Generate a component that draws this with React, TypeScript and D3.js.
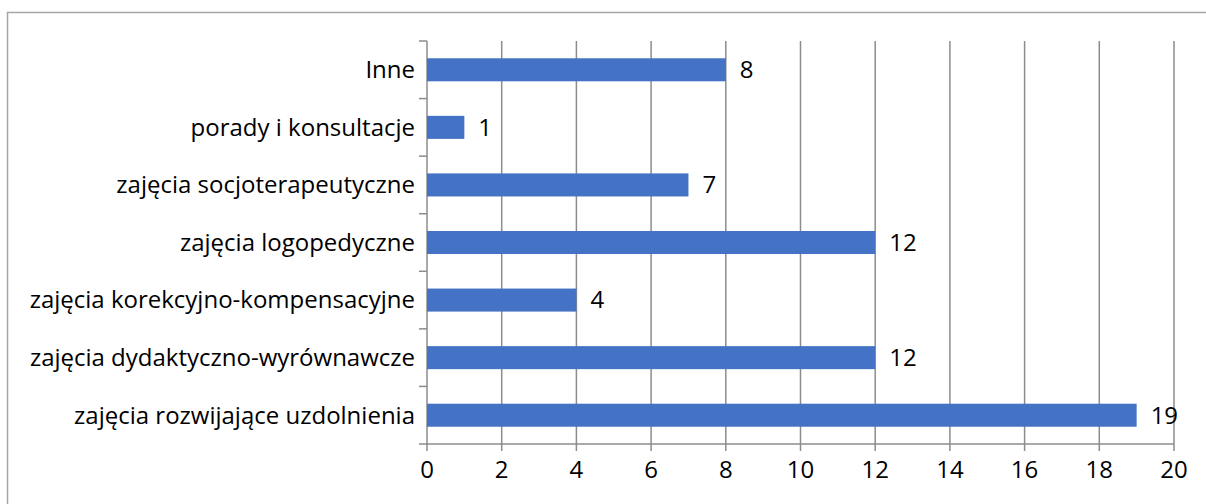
import React from "react";
import * as d3 from "d3";

const categories = [
  "Inne",
  "porady i konsultacje",
  "zajęcia socjoterapeutyczne",
  "zajęcia logopedyczne",
  "zajęcia korekcyjno-kompensacyjne",
  "zajęcia dydaktyczno-wyrównawcze",
  "zajęcia rozwijające uzdolnienia",
];
const values = [8, 1, 7, 12, 4, 12, 19];
const xTicks = [0, 2, 4, 6, 8, 10, 12, 14, 16, 18, 20];

export default function App() {
  const W = 1206, H = 504;
  const left = 427, right = 1174, top = 41, bottom = 444;
  const x = d3.scaleLinear().domain([0, 20]).range([left, right]);
  const y = d3.scaleBand().domain(categories).range([top, bottom]).paddingInner(0.6).paddingOuter(0.3);
  const band = (bottom - top) / categories.length;
  const font = "'Open Sans', 'Noto Sans', sans-serif";
  const fs = 24;
  return (
    <svg width={W} height={H} style={{ position: "absolute", left: 0, top: 0, background: "#fff" }}>
      <rect x={7.5} y={12.5} width={1210} height={520} fill="none" stroke="#a6a6a6" strokeWidth={1.5} />
      {xTicks.map((t) => (
        <line key={"g" + t} x1={x(t)} x2={x(t)} y1={top} y2={bottom + 7} stroke="#8c8c8c" strokeWidth={1.5} />
      ))}
      <line x1={left} x2={right} y1={bottom} y2={bottom} stroke="#8c8c8c" strokeWidth={1.5} />
      {d3.range(categories.length + 1).map((i) => (
        <line key={"yt" + i} x1={left - 8} x2={left} y1={top + i * band} y2={top + i * band} stroke="#8c8c8c" strokeWidth={1.5} />
      ))}
      {categories.map((c, i) => (
        <g key={c}>
          <rect x={x(0)} y={y(c)!} width={x(values[i]) - x(0)} height={y.bandwidth()} fill="#4472C4" />
          <text x={415} y={y(c)! + y.bandwidth() / 2} dy="0.35em" textAnchor="end" fontFamily={font} fontSize={fs} fill="#000">{c}</text>
          <text x={x(values[i]) + 14} y={y(c)! + y.bandwidth() / 2} dy="0.35em" fontFamily={font} fontSize={fs} fill="#000">{values[i]}</text>
        </g>
      ))}
      {xTicks.map((t) => (
        <text key={"l" + t} x={x(t)} y={470} dy="0.35em" textAnchor="middle" fontFamily={font} fontSize={fs} fill="#000">{t}</text>
      ))}
    </svg>
  );
}
